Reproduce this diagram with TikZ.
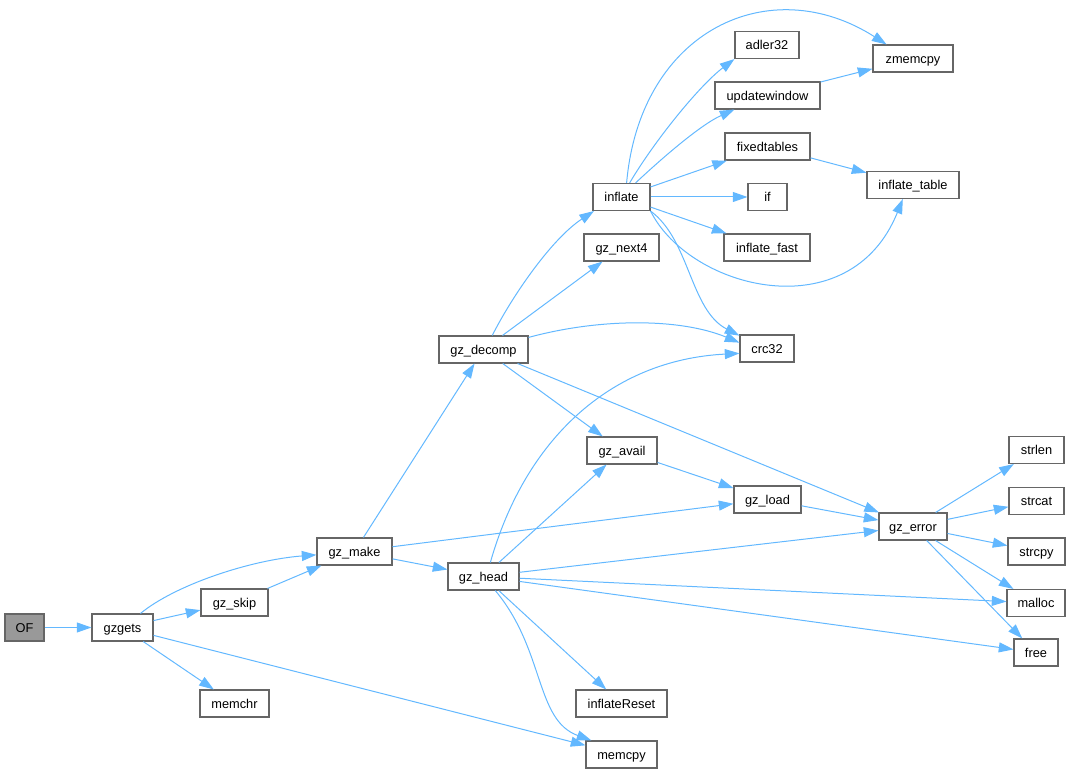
\documentclass[tikz,border=0pt]{standalone}
\usepackage{fontspec}
\setmainfont{Liberation Sans}
\usetikzlibrary{arrows.meta}
\definecolor{cedge}{HTML}{63B8FF}
\definecolor{cborder}{HTML}{666666}
\definecolor{cfunc}{HTML}{999999}
\tikzset{
  every picture/.style={x=0.75pt, y=-0.75pt, font=\fontsize{9.6}{11}\selectfont},
  fn/.style={draw=cborder, fill=white, line width=0.8pt, inner sep=1pt, text height=8.5pt, text depth=1.5pt,
    minimum height=20.25pt, minimum width=#1},
  fn/.default=40pt,
  call/.style={-{Triangle[length=11pt, width=7.5pt]}, draw=cedge, line width=0.75pt},
}

\begin{document}
\begin{tikzpicture}
  \useasboundingbox (0,0) rectangle (1072,773);
  % functions
  \node[fn=29.25pt, fill=cfunc] (OF) at (24.5,627.5) {OF};
  \node[fn=45.75pt] (gzgets) at (122.5,627.5) {gzgets};
  \node[fn=50.25pt] (gz_skip) at (234.5,602.5) {gz\_skip};
  \node[fn=51.75pt] (memchr) at (234.5,703.5) {memchr};
  \node[fn=56.25pt] (gz_make) at (354.5,551.5) {gz\_make};
  \node[fn=66.75pt] (gz_decomp) at (483.5,349.5) {gz\_decomp};
  \node[fn=53.25pt] (gz_head) at (483.5,576.5) {gz\_head};
  \node[fn=42.75pt] (inflate) at (621.5,197) {inflate};
  \node[fn=56.25pt] (gz_next4) at (621.5,247.5) {gz\_next4};
  \node[fn=52.5pt] (gz_avail) at (622,450.5) {gz\_avail};
  \node[fn=68.25pt] (inflateReset) at (621.5,703.5) {inflateReset};
  \node[fn=53.25pt] (memcpy) at (621.5,754.5) {memcpy};
  \node[fn=48pt] (adler32) at (767,45) {adler32};
  \node[fn=78.75pt] (updatewindow) at (767.5,95.5) {updatewindow};
  \node[fn=63.75pt] (fixedtables) at (767.5,146.5) {fixedtables};
  \node[fn=29.25pt] (if) at (767.5,197) {if};
  \node[fn=64.5pt] (inflate_fast) at (767,247.5) {inflate\_fast};
  \node[fn=40.5pt] (crc32) at (767,348.5) {crc32};
  \node[fn=50.25pt] (gz_load) at (767.5,499.5) {gz\_load};
  \node[fn=60pt] (zmemcpy) at (913,58.5) {zmemcpy};
  \node[fn=69pt] (inflate_table) at (913,185) {inflate\_table};
  \node[fn=51pt] (gz_error) at (913,526.5) {gz\_error};
  \node[fn=41.25pt] (strlen) at (1036.5,450) {strlen};
  \node[fn=41.25pt] (strcat) at (1036.5,501) {strcat};
  \node[fn=42.75pt] (strcpy) at (1036.5,551.5) {strcpy};
  \node[fn=43.5pt] (malloc) at (1036,603) {malloc};
  \node[fn=33pt] (free) at (1036,652.5) {free};

  % calls
  \draw[call] (OF) -- (gzgets);
  \draw[call] (gzgets.38) .. controls (175,585) and (250,560) .. (gz_make.185);
  \draw[call] (gzgets) -- (gz_skip);
  \draw[call] (gzgets) -- (memchr);
  \draw[call] (gzgets) -- (memcpy);
  \draw[call] (gz_skip) -- (gz_make);
  \draw[call] (gz_make) -- (gz_decomp);
  \draw[call] (gz_make) -- (gz_head);
  \draw[call] (gz_make) -- (gz_load);
  \draw[call] (gz_decomp.58) .. controls (510,300) and (550,240) .. (inflate.207);
  \draw[call] (gz_decomp) -- (gz_next4);
  \draw[call] (gz_decomp.15) .. controls (600,318) and (680,318) .. (crc32.168);
  \draw[call] (gz_decomp) -- (gz_avail);
  \draw[call] (gz_decomp) -- (gz_error);
  \draw[call] (gz_head) -- (gz_avail);
  \draw[call] (gz_head.64) .. controls (525,440) and (610,360) .. (crc32.190);
  \draw[call] (gz_head) -- (gz_error);
  \draw[call] (gz_head) -- (malloc);
  \draw[call] (gz_head) -- (free);
  \draw[call] (gz_head) -- (inflateReset);
  \draw[call] (gz_head.-50) .. controls (545,650) and (535,720) .. (memcpy.155);
  \draw[call] (gz_avail) -- (gz_load);
  \draw[call] (gz_load) -- (gz_error);
  \foreach \t in {strlen, strcat, strcpy, malloc, free}
    \draw[call] (gz_error) -- (\t);
  \draw[call] (inflate.70) .. controls (640,30) and (770,-30) .. (zmemcpy.152);
  \draw[call] (inflate.60) .. controls (655,140) and (700,85) .. (adler32.south west);
  \draw[call] (inflate.45) .. controls (660,160) and (700,125) .. (updatewindow.203);
  \foreach \t in {fixedtables, if, inflate_fast}
    \draw[call] (inflate) -- (\t);
  \draw[call] (inflate.south east) .. controls (690,290) and (850,330) .. (inflate_table.234);
  \draw[call] (inflate.south east) .. controls (690,240) and (690,310) .. (crc32.155);
  \draw[call] (updatewindow) -- (zmemcpy);
  \draw[call] (fixedtables) -- (inflate_table);
\end{tikzpicture}
\end{document}
